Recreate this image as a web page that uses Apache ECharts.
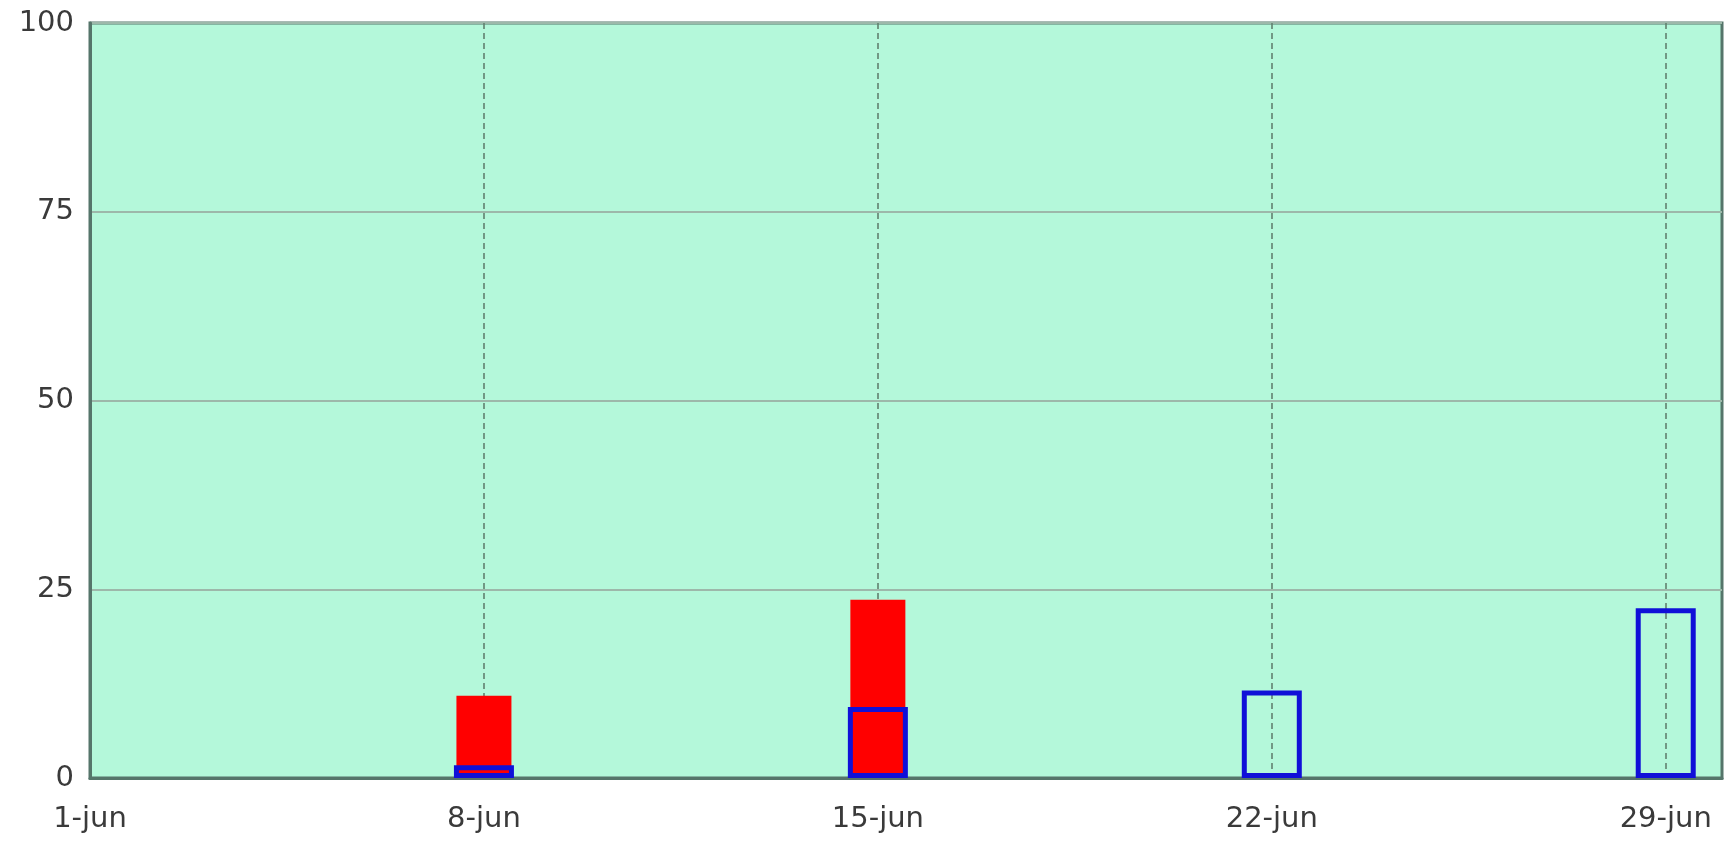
<!DOCTYPE html>
<html>
<head>
<meta charset="utf-8">
<script src="https://cdn.jsdelivr.net/npm/echarts@6/dist/echarts.min.js"></script>
<style>
html,body{margin:0;padding:0;background:#fff;}
#chart{width:1725px;height:843px;}
</style>
</head>
<body>
<div id="chart"></div>
<script>
const days = ['1-jun','2-jun','3-jun','4-jun','5-jun','6-jun','7-jun','8-jun','9-jun','10-jun',
  '11-jun','12-jun','13-jun','14-jun','15-jun','16-jun','17-jun','18-jun','19-jun','20-jun',
  '21-jun','22-jun','23-jun','24-jun','25-jun','26-jun','27-jun','28-jun','29-jun','30-jun'];
const redDays = ['8-jun', '15-jun'];
const redValues = [10.9, 23.6];
const blueDays = ['8-jun', '15-jun', '22-jun', '29-jun'];
const blueValues = [1.7, 9.4, 11.6, 22.5];
const yTicks = [0, 25, 50, 75, 100];

const font = '"DejaVu Sans", Verdana, sans-serif';
const xAxisBase = {
  type: 'category',
  data: days,
  boundaryGap: false,
  axisLine: { show: true, lineStyle: { color: '#55756a', width: 3 } },
  axisTick: { show: false },
  axisLabel: { show: true, interval: 6, color: '#3a3a3a', fontSize: 29, fontFamily: font, margin: 27 },
  splitLine: { show: true, interval: 6, lineStyle: { color: '#62806f', width: 1.6, type: [6, 4] } }
};

const chart = echarts.init(document.getElementById('chart'));
chart.setOption({
  animation: false,
  backgroundColor: '#ffffff',
  grid: {
    left: 90, right: 3, top: 23, bottom: 65,
    show: true, backgroundColor: '#b4f8da', borderColor: '#55756a', borderWidth: 3
  },
  xAxis: [
    xAxisBase,
    Object.assign({}, xAxisBase, { axisLabel: { show: false }, splitLine: { show: false }, axisLine: { show: false } })
  ],
  yAxis: {
    type: 'value',
    min: yTicks[0], max: yTicks[yTicks.length - 1], interval: 25,
    axisLine: { show: true, lineStyle: { color: '#55756a', width: 3 } },
    axisTick: { show: false },
    axisLabel: { color: '#3a3a3a', fontSize: 29, fontFamily: font, margin: 16 },
    splitLine: { show: true, lineStyle: { color: '#9db8aa', width: 2 } }
  },
  series: [
    {
      type: 'bar', xAxisIndex: 0, barWidth: 55,
      data: redDays.map((d, i) => [d, redValues[i]]),
      itemStyle: { color: '#ff0000' }
    },
    {
      type: 'bar', xAxisIndex: 1, barWidth: 60,
      data: blueDays.map((d, i) => [d, blueValues[i]]),
      itemStyle: { color: 'rgba(0,0,0,0)', borderColor: '#1010d8', borderWidth: 5 }
    }
  ]
});
</script>
</body>
</html>
